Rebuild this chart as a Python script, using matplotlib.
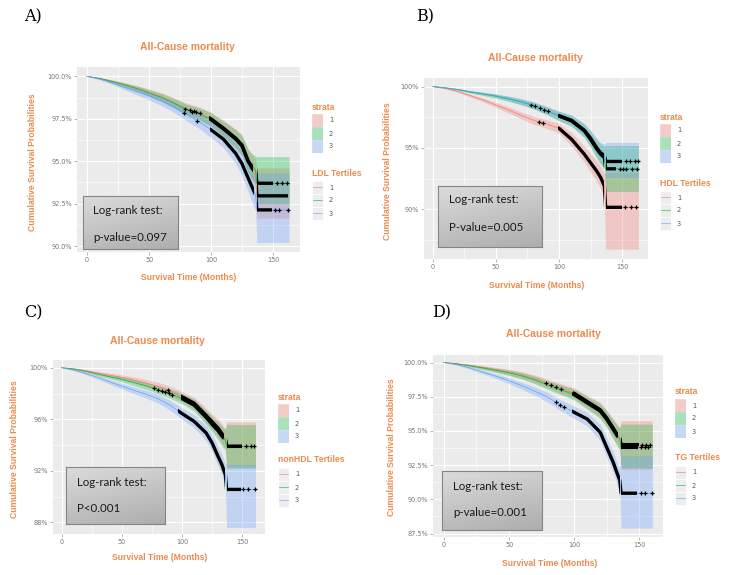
import numpy as np
import matplotlib.pyplot as plt
from matplotlib.patches import Rectangle
from matplotlib.ticker import FuncFormatter, FixedLocator

W, H = 729, 575
ORANGE = '#EB8B4F'
COLS = ['#F8766D', '#00BA38', '#619CFF']

# ---------------- data ----------------
# A) LDL tertiles
a_t = [0, 10, 20, 30, 40, 50, 60, 70, 80, 90, 100, 110, 120, 125, 130, 133, 136, 137, 163]
a_surv = [[100, 99.88, 99.72, 99.52, 99.3, 99.05, 98.8, 98.45, 98.1, 97.85, 97.5, 96.95, 96.35, 95.95, 95.0, 94.6, 94.3, 92.96, 92.96],
          [100, 99.88, 99.7, 99.5, 99.28, 99.02, 98.75, 98.42, 98.05, 97.8, 97.45, 96.9, 96.3, 95.9, 95.0, 94.7, 94.5, 93.7, 93.7],
          [100, 99.85, 99.62, 99.35, 99.1, 98.85, 98.55, 98.2, 97.75, 97.35, 96.85, 96.3, 95.45, 94.85, 94.0, 93.5, 93.0, 92.13, 92.13]]
a_lo = [[100, 99.84, 99.64, 99.40, 99.14, 98.85, 98.56, 98.17, 97.78, 97.49, 97.10, 96.49, 95.80, 95.35, 94.30, 93.85, 93.50, 91.65, 91.65],
        [100, 99.84, 99.62, 99.38, 99.12, 98.82, 98.51, 98.14, 97.73, 97.44, 97.05, 96.44, 95.75, 95.30, 94.30, 93.95, 93.70, 92.50, 92.50],
        [100, 99.80, 99.53, 99.22, 98.92, 98.62, 98.28, 97.88, 97.39, 96.95, 96.40, 95.80, 94.85, 94.15, 93.20, 92.60, 92.05, 90.20, 90.20]]
a_hi = [[100, 99.92, 99.80, 99.64, 99.46, 99.25, 99.04, 98.73, 98.42, 98.21, 97.90, 97.41, 96.90, 96.55, 95.70, 95.35, 95.10, 94.60, 94.60],
        [100, 99.92, 99.78, 99.62, 99.44, 99.22, 98.99, 98.70, 98.37, 98.16, 97.85, 97.36, 96.85, 96.50, 95.70, 95.45, 95.30, 95.27, 95.27],
        [100, 99.90, 99.71, 99.48, 99.28, 99.08, 98.82, 98.52, 98.11, 97.75, 97.30, 96.80, 96.05, 95.55, 94.80, 94.40, 94.20, 94.30, 94.30]]
a_dense = [[(98, 134), (137, 162)], [(98, 134), (137, 150)], [(99, 135), (137, 149)]]
a_cens = [[83, 86, 88, 91], [79, 85, 153, 157, 161], [78, 89, 152, 155, 162]]

# B) HDL tertiles
b_t = [0, 10, 20, 30, 40, 50, 60, 70, 80, 90, 100, 110, 120, 125, 130, 133, 136, 137, 163]
b_surv = [[100, 99.85, 99.6, 99.25, 98.9, 98.5, 98.1, 97.65, 97.25, 96.95, 96.6, 95.7, 94.5, 93.8, 93.1, 92.6, 91.9, 90.16, 90.16],
          [100, 99.9, 99.75, 99.55, 99.4, 99.22, 99.0, 98.75, 98.45, 98.05, 97.6, 97.2, 96.4, 95.7, 94.9, 94.5, 94.2, 93.3, 93.3],
          [100, 99.9, 99.77, 99.58, 99.42, 99.25, 99.03, 98.78, 98.48, 98.08, 97.63, 97.25, 96.45, 95.8, 95.0, 94.6, 94.4, 93.9, 93.9]]
b_lo = [[100, 99.81, 99.52, 99.13, 98.74, 98.30, 97.86, 97.37, 96.93, 96.6, 96.2, 95.15, 93.85, 93.05, 92.25, 91.7, 90.9, 86.75, 86.75],
        [100, 99.87, 99.69, 99.46, 99.28, 99.06, 98.80, 98.51, 98.17, 97.73, 97.22, 96.75, 95.85, 95.05, 94.15, 93.65, 93.3, 91.46, 91.46],
        [100, 99.87, 99.71, 99.49, 99.30, 99.09, 98.83, 98.54, 98.20, 97.76, 97.25, 96.80, 95.90, 95.15, 94.25, 93.75, 93.5, 92.6, 92.6]]
b_hi = [[100, 99.89, 99.68, 99.37, 99.06, 98.70, 98.34, 97.93, 97.57, 97.3, 97.0, 96.25, 95.15, 94.55, 93.95, 93.5, 92.9, 93.0, 93.0],
        [100, 99.93, 99.81, 99.64, 99.52, 99.38, 99.20, 98.99, 98.73, 98.37, 97.98, 97.65, 96.95, 96.35, 95.65, 95.35, 95.1, 95.2, 95.2],
        [100, 99.93, 99.83, 99.67, 99.54, 99.41, 99.23, 99.02, 98.76, 98.40, 98.01, 97.70, 97.00, 96.45, 95.75, 95.45, 95.3, 95.45, 95.45]]
b_dense = [[(99, 136), (137, 150)], [(99, 136), (137, 145)], [(100, 136), (137, 150)]]
b_cens = [[84, 87, 152, 157, 161], [78, 81, 85, 88, 91, 148, 151, 153, 158, 162], [153, 156, 160, 163]]

# C) nonHDL tertiles
c_t = [0, 10, 20, 30, 40, 50, 60, 70, 80, 90, 100, 110, 120, 125, 130, 133, 136, 137, 161]
c_surv = [[100, 99.92, 99.78, 99.6, 99.42, 99.25, 99.05, 98.8, 98.55, 98.2, 97.75, 97.25, 96.3, 95.8, 95.3, 94.9, 94.5, 93.9, 93.9],
          [100, 99.9, 99.72, 99.5, 99.3, 99.1, 98.85, 98.6, 98.3, 98.0, 97.6, 97.1, 96.15, 95.6, 95.1, 94.7, 94.4, 93.9, 93.9],
          [100, 99.82, 99.55, 99.25, 98.9, 98.57, 98.25, 97.95, 97.6, 97.1, 96.44, 95.84, 94.94, 94.16, 93.1, 92.5, 91.7, 90.56, 90.56]]
c_lo = [[100, 99.88, 99.70, 99.48, 99.26, 99.05, 98.81, 98.52, 98.23, 97.84, 97.35, 96.79, 95.75, 95.2, 94.6, 94.15, 93.7, 92.3, 92.3],
        [100, 99.86, 99.64, 99.38, 99.14, 98.90, 98.61, 98.32, 97.98, 97.64, 97.2, 96.64, 95.6, 95.0, 94.4, 93.95, 93.6, 92.2, 92.2],
        [100, 99.77, 99.46, 99.11, 98.72, 98.35, 97.99, 97.65, 97.26, 96.72, 96.0, 95.34, 94.34, 93.5, 92.35, 91.7, 90.85, 87.6, 87.6]]
c_hi = [[100, 99.96, 99.86, 99.72, 99.58, 99.45, 99.29, 99.08, 98.87, 98.56, 98.15, 97.71, 96.85, 96.4, 96.0, 95.65, 95.3, 95.8, 95.8],
        [100, 99.94, 99.80, 99.62, 99.46, 99.30, 99.09, 98.88, 98.62, 98.36, 98.0, 97.56, 96.7, 96.2, 95.8, 95.45, 95.2, 95.6, 95.6],
        [100, 99.87, 99.64, 99.39, 99.08, 98.79, 98.51, 98.25, 97.94, 97.48, 96.88, 96.34, 95.54, 94.82, 93.85, 93.3, 92.55, 92.5, 92.5]]
c_dense = [[(99, 135), (137, 150)], [(99, 134), (137, 150)], [(97, 136), (137, 149)]]
c_cens = [[88, 153, 157, 160], [77, 80, 83, 86, 89, 92], [151, 155, 161]]

# D) TG tertiles
d_t = [0, 10, 20, 30, 40, 50, 60, 70, 80, 90, 100, 110, 120, 125, 130, 133, 135, 136, 160]
d_surv = [[100, 99.92, 99.8, 99.65, 99.48, 99.3, 99.08, 98.8, 98.45, 98.1, 97.75, 97.15, 96.55, 95.95, 95.2, 94.75, 94.5, 94.0, 94.0],
          [100, 99.9, 99.76, 99.6, 99.43, 99.25, 99.02, 98.72, 98.35, 98.0, 97.65, 97.05, 96.45, 95.85, 95.1, 94.65, 94.4, 93.8, 93.8],
          [100, 99.85, 99.6, 99.3, 99.0, 98.67, 98.3, 97.9, 97.45, 96.85, 96.36, 95.87, 94.9, 93.8, 92.7, 91.9, 91.4, 90.45, 90.45]]
d_lo = [[100, 99.88, 99.72, 99.53, 99.32, 99.1, 98.84, 98.52, 98.13, 97.74, 97.35, 96.69, 96.0, 95.35, 94.5, 94.0, 93.7, 92.2, 92.2],
        [100, 99.86, 99.68, 99.48, 99.27, 99.05, 98.78, 98.44, 98.03, 97.64, 97.25, 96.59, 95.9, 95.25, 94.4, 93.9, 93.6, 92.3, 92.3],
        [100, 99.80, 99.51, 99.17, 98.83, 98.45, 98.04, 97.6, 97.1, 96.45, 95.91, 95.37, 94.3, 93.1, 91.95, 91.1, 90.55, 87.9, 87.9]]
d_hi = [[100, 99.96, 99.88, 99.77, 99.64, 99.5, 99.32, 99.08, 98.77, 98.46, 98.15, 97.61, 97.1, 96.55, 95.9, 95.5, 95.3, 95.75, 95.75],
        [100, 99.94, 99.84, 99.72, 99.59, 99.45, 99.26, 99.0, 98.67, 98.36, 98.05, 97.51, 97.0, 96.45, 95.8, 95.4, 95.2, 95.5, 95.5],
        [100, 99.9, 99.69, 99.43, 99.17, 98.89, 98.56, 98.2, 97.8, 97.25, 96.81, 96.37, 95.5, 94.5, 93.45, 92.7, 92.25, 93.2, 93.2]]
d_dense = [[(99, 134), (136, 150)], [(98, 133), (136, 149)], [(98, 135), (136, 148)]]
d_cens = [[78, 82, 86, 90, 152, 155, 158], [151, 154, 157], [86, 89, 92, 151, 154, 160]]

panel_labels = ['A)', 'B)', 'C)', 'D)']
tertile_titles = ['LDL Tertiles', 'HDL Tertiles', 'nonHDL Tertiles', 'TG Tertiles']
pvalues = ['p-value=0.097', 'P-value=0.005', 'P<0.001', 'p-value=0.001']
yticks = [[90, 92.5, 95, 97.5, 100], [90, 95, 100], [88, 92, 96, 100], [87.5, 90, 92.5, 95, 97.5, 100]]
ydec = [1, 0, 0, 1]
xticks = [0, 50, 100, 150]

# ---------------- layout (pixels) ----------------
axes_px = [(77, 67, 300, 252), (424, 78, 648, 259), (53, 360, 265, 534), (433, 355, 663, 537)]
xlims = [(-8.1, 171.8), (-7.1, 170.6), (-7.2, 168.9), (-8.4, 168.2)]
ylims = [(89.65, 100.55), (85.95, 100.7), (87.1, 100.6), (87.25, 100.55)]
label_xy = [(24, 17), (416, 17), (24, 313), (432, 313)]
title_xy = [(187, 47), (535, 58), (157, 341), (553, 334)]
ylab_xy = [(33, 162), (388, 171), (15, 449), (392, 447)]
xlab_xy = [(189, 278), (537, 286), (160, 558), (550, 563)]
leg_xy = [(312, 107, 173), (660, 117, 183), (278, 397, 460), (675, 392, 458)]
box_px = [(83, 196, 178, 249), (438, 186, 542, 247), (66, 467, 165, 524), (442, 471, 542, 530)]
box_text = [(93, 210, 237), (449, 200, 228), (77, 482, 509), (453, 486, 513)]

fig = plt.figure(figsize=(W / 100, H / 100), dpi=100)


def px_axes(x0, y0, x1, y1):
    return fig.add_axes([x0 / W, 1 - y1 / H, (x1 - x0) / W, (y1 - y0) / H])


def ftext(x, y, s, **kw):
    fig.text(x / W, 1 - y / H, s, **kw)


panels = [(a_t, a_surv, a_lo, a_hi, a_dense, a_cens),
          (b_t, b_surv, b_lo, b_hi, b_dense, b_cens),
          (c_t, c_surv, c_lo, c_hi, c_dense, c_cens),
          (d_t, d_surv, d_lo, d_hi, d_dense, d_cens)]

for i, (t, surv, lo, hi, dense, cens) in enumerate(panels):
    ax = px_axes(*axes_px[i])
    ax.set_facecolor('#EBEBEB')
    for sp in ax.spines.values():
        sp.set_visible(False)
    ax.set_xlim(*xlims[i])
    ax.set_ylim(*ylims[i])

    # grid like ggplot
    ax.xaxis.set_major_locator(FixedLocator(xticks))
    ax.xaxis.set_minor_locator(FixedLocator([25, 75, 125]))
    yt = yticks[i]
    step = yt[1] - yt[0]
    ax.yaxis.set_major_locator(FixedLocator(yt))
    ax.yaxis.set_minor_locator(FixedLocator([v + step / 2 for v in [yt[0] - step] + yt]))
    ax.grid(which='major', color='white', lw=0.8)
    ax.grid(which='minor', color='white', lw=0.4)
    ax.set_axisbelow(True)
    fmt = '{:.%df}%%' % ydec[i]
    ax.yaxis.set_major_formatter(FuncFormatter(lambda v, p, f=fmt: f.format(v)))
    ax.tick_params(which='major', length=2, width=0.5, color='#999999',
                   labelsize=4.7, labelcolor='#777777', pad=1.5)
    ax.tick_params(which='minor', length=0)

    for k in range(3):
        ax.fill_between(t, lo[k], hi[k], color=COLS[k], alpha=0.3, lw=0)
    for k in range(3):
        ax.plot(t, surv[k], color=COLS[k], lw=0.5)
    for k in range(3):
        for (c0, c1) in dense[k]:
            ln, = ax.plot(t, surv[k], color='black', lw=2.4, solid_capstyle='butt')
            ln.set_clip_path(Rectangle((c0, 0), c1 - c0, 200, transform=ax.transData))
        ct = np.array(cens[k], dtype=float)
        ax.plot(ct, np.interp(ct, t, surv[k]), '+', color='black', ms=3.5, mew=0.9)

    # texts
    ftext(*label_xy[i], panel_labels[i], fontsize=11.5, family='DejaVu Serif',
          ha='left', va='center')
    ftext(*title_xy[i], 'All-Cause mortality', fontsize=7.5, fontweight='bold',
          color=ORANGE, ha='center', va='center', family='Liberation Sans')
    ftext(*ylab_xy[i], 'Cumulative Survival Probabilities', fontsize=6.2, fontweight='bold',
          color=ORANGE, ha='center', va='center', rotation=90, family='Liberation Sans')
    ftext(*xlab_xy[i], 'Survival Time (Months)', fontsize=6.2, fontweight='bold',
          color=ORANGE, ha='center', va='center', family='Liberation Sans')

    # log-rank box
    bx0, by0, bx1, by1 = box_px[i]
    bax = px_axes(bx0, by0, bx1, by1)
    bax.set_zorder(6)
    gy = np.linspace(0, 1, 64)[:, None]
    gx = np.linspace(0, 1, 64)[None, :]
    shade = 0.86 - 0.13 * gy - 0.05 * gx
    bax.imshow(np.dstack([shade] * 3), aspect='auto', extent=(0, 1, 1, 0))
    bax.set_xticks([])
    bax.set_yticks([])
    for sp in bax.spines.values():
        sp.set_color('#858585')
        sp.set_linewidth(0.8)
    tx, ty1, ty2 = box_text[i]
    fx = (tx - bx0) / (bx1 - bx0)
    bax.text(fx, 1 - (ty1 - by0) / (by1 - by0), 'Log-rank test:',
             transform=bax.transAxes, fontsize=8.3, family='Lato', ha='left', va='center',
             color='#1A1A1A')
    bax.text(fx, 1 - (ty2 - by0) / (by1 - by0), pvalues[i],
             transform=bax.transAxes, fontsize=8.3, family='Lato', ha='left', va='center',
             color='#1A1A1A')

# legends drawn on one overlay in pixel coordinates
ov = fig.add_axes([0, 0, 1, 1], zorder=5)
ov.set_xlim(0, W)
ov.set_ylim(H, 0)
ov.axis('off')
for i in range(4):
    lx, ly1, ly2 = leg_xy[i]
    ov.text(lx, ly1, 'strata', fontsize=6.2, fontweight='bold', color=ORANGE,
            ha='left', va='center', family='Liberation Sans')
    ov.text(lx, ly2, tertile_titles[i], fontsize=6.2, fontweight='bold', color=ORANGE,
            ha='left', va='center', family='Liberation Sans')
    for k in range(3):
        yk = ly1 + 13 + 13 * k
        ov.add_patch(Rectangle((lx, yk - 6.5), 11, 13, facecolor='#F2F2F2', edgecolor='white', lw=0.6))
        ov.add_patch(Rectangle((lx, yk - 6.5), 11, 13, facecolor=COLS[k], alpha=0.3, lw=0))
        ov.text(lx + 17, yk + 0.5, str(k + 1), fontsize=4.8, color='#555555', ha='left', va='center')
        yk2 = ly2 + 14 + 13 * k
        ov.add_patch(Rectangle((lx, yk2 - 6.5), 11, 13, facecolor='#EDEDED', edgecolor='white', lw=0.6))
        ov.plot([lx + 1, lx + 10], [yk2, yk2], color=COLS[k], lw=0.5, alpha=0.8)
        ov.text(lx + 17, yk2 + 0.5, str(k + 1), fontsize=4.8, color='#555555', ha='left', va='center')

fig.savefig('out.png', dpi=100)
